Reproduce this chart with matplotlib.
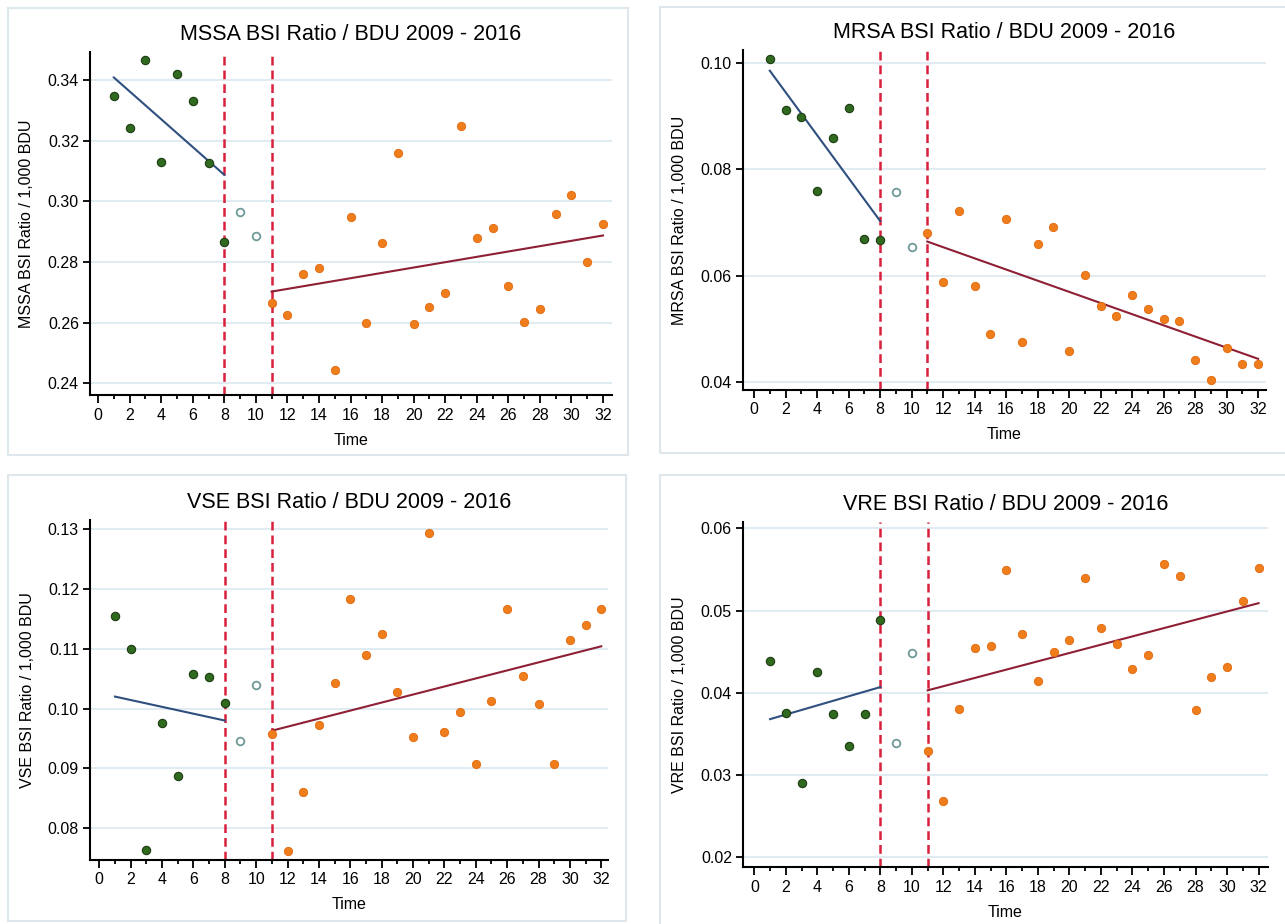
import matplotlib
matplotlib.use("Agg")
import matplotlib.pyplot as plt
from matplotlib.patches import Rectangle
from matplotlib.ticker import MultipleLocator, FixedLocator

plt.rcParams['font.family'] = ['Liberation Sans', 'DejaVu Sans']

time = list(range(1, 33))
x_ticks = list(range(0, 33, 2))
break_start = 8
break_end = 11

titles = ["MSSA BSI Ratio / BDU 2009 - 2016", "MRSA BSI Ratio / BDU 2009 - 2016",
          "VSE BSI Ratio / BDU 2009 - 2016", "VRE BSI Ratio / BDU 2009 - 2016"]
ylabels = ["MSSA BSI Ratio / 1,000 BDU", "MRSA BSI Ratio / 1,000 BDU",
           "VSE BSI Ratio / 1,000 BDU", "VRE BSI Ratio / 1,000 BDU"]

mssa = [0.3347, 0.3243, 0.3466, 0.3130, 0.3421, 0.3331, 0.3125, 0.2866,
        0.2965, 0.2884,
        0.2666, 0.2626, 0.2760, 0.2781, 0.2442, 0.2949, 0.2597, 0.2862, 0.3160, 0.2595,
        0.2652, 0.2697, 0.3249, 0.2878, 0.2913, 0.2719, 0.2601, 0.2644, 0.2959, 0.3020,
        0.2800, 0.2924]
mrsa = [0.1008, 0.0912, 0.0899, 0.0760, 0.0859, 0.0916, 0.0668, 0.0667,
        0.0758, 0.0653,
        0.0681, 0.0588, 0.0722, 0.0581, 0.0489, 0.0706, 0.0474, 0.0659, 0.0691, 0.0457,
        0.0601, 0.0543, 0.0523, 0.0563, 0.0536, 0.0518, 0.0514, 0.0440, 0.0403, 0.0463,
        0.0433, 0.0433]
vse = [0.1154, 0.1100, 0.0764, 0.0976, 0.0888, 0.1058, 0.1053, 0.1009,
       0.0945, 0.1040,
       0.0957, 0.0762, 0.0860, 0.0973, 0.1042, 0.1183, 0.1089, 0.1125, 0.1027, 0.0952,
       0.1294, 0.0960, 0.0994, 0.0908, 0.1012, 0.1166, 0.1055, 0.1007, 0.0908, 0.1114,
       0.1139, 0.1167]
vre = [0.0439, 0.0376, 0.0290, 0.0425, 0.0374, 0.0335, 0.0374, 0.0488,
       0.0339, 0.0448,
       0.0329, 0.0268, 0.0380, 0.0454, 0.0457, 0.0549, 0.0472, 0.0414, 0.0450, 0.0464,
       0.0539, 0.0479, 0.0459, 0.0429, 0.0446, 0.0557, 0.0542, 0.0379, 0.0419, 0.0431,
       0.0512, 0.0552]
series = [mssa, mrsa, vse, vre]

# fitted segment values (start, end)
pre_fit_t = [1, 8]
post_fit_t = [11, 32]
pre_fits = [[0.3408, 0.3087], [0.0986, 0.0703], [0.1020, 0.0980], [0.0368, 0.0407]]
post_fits = [[0.2702, 0.2887], [0.0664, 0.0443], [0.0963, 0.1104], [0.0403, 0.0509]]

y_ticks = [[0.24, 0.26, 0.28, 0.30, 0.32, 0.34],
           [0.04, 0.06, 0.08, 0.10],
           [0.08, 0.09, 0.10, 0.11, 0.12, 0.13],
           [0.02, 0.03, 0.04, 0.05, 0.06]]
y_fmt = ["{:.2f}", "{:.2f}", "{:.2f}", "{:.2f}"]
y_lims = [(0.2361, 0.3492), (0.03843, 0.1025), (0.0747, 0.1315), (0.01882, 0.06077)]
x_lims = [(-0.51, 32.57), (-0.70, 32.5), (-0.59, 32.43), (-0.72, 32.6)]

W, H = 1285, 924
# axes boxes in pixels: left, right, top, bottom
ax_px = [(90, 612, 52, 395), (743, 1266, 50, 390), (90, 608, 520, 860), (743, 1268, 522, 867)]
panel_px = [(8, 628, 8, 455), (660, 1290, 7, 453), (8, 626, 475, 921), (660, 1290, 475, 930)]

green = '#2f6a1f'
green_edge = '#1f3d14'
orange = '#f07d1c'
open_edge = '#6f9a98'
blue = '#2f4f7f'
maroon = '#8e1f35'
red = '#d8203c'
grid_c = '#e0ecf1'

fig = plt.figure(figsize=(W / 100, H / 100), dpi=100)
fig.patch.set_facecolor('white')

for i in range(4):
    pl, pr, pt, pb = panel_px[i]
    fig.patches.append(Rectangle((pl / W, 1 - pb / H), (pr - pl) / W, (pb - pt) / H,
                                 transform=fig.transFigure, fill=False,
                                 edgecolor='#dde7ec', lw=1.5, zorder=0))
    l, r, t, b = ax_px[i]
    ax = fig.add_axes([l / W, 1 - b / H, (r - l) / W, (b - t) / H])
    ys = series[i]
    pre_t = [tt for tt in time if tt <= break_start]
    mid_t = [tt for tt in time if break_start < tt < break_end]
    post_t = [tt for tt in time if tt >= break_end]
    ax.plot(pre_t, [ys[tt - 1] for tt in pre_t], 'o', ms=6, mfc=green, mec=green_edge,
            mew=0.8, zorder=4, clip_on=False)
    ax.plot(mid_t, [ys[tt - 1] for tt in mid_t], 'o', ms=5.5, mfc='white', mec=open_edge,
            mew=1.3, zorder=4)
    ax.plot(post_t, [ys[tt - 1] for tt in post_t], 'o', ms=6, mfc=orange, mec='#e06a10',
            mew=0.6, zorder=4, clip_on=False)
    ax.plot(pre_fit_t, pre_fits[i], '-', color=blue, lw=1.5, zorder=3)
    ax.plot(post_fit_t, post_fits[i], '-', color=maroon, lw=1.5, zorder=3)
    for xv in (break_start, break_end):
        ax.axvline(xv, color=red, lw=1.8, ls=(0, (3.5, 2)), zorder=2)
    ax.set_xlim(*x_lims[i])
    ax.set_ylim(*y_lims[i])
    ax.xaxis.set_major_locator(FixedLocator(x_ticks))
    ax.xaxis.set_minor_locator(MultipleLocator(1))
    ax.set_yticks(y_ticks[i])
    ax.set_yticklabels([y_fmt[i].format(v) for v in y_ticks[i]])
    ax.yaxis.grid(True, color=grid_c, lw=1.4, zorder=0)
    ax.set_axisbelow(True)
    for s in ('top', 'right'):
        ax.spines[s].set_visible(False)
    for s in ('left', 'bottom'):
        ax.spines[s].set_linewidth(1.5)
        ax.spines[s].set_color('black')
    ax.tick_params(axis='x', which='major', length=6, width=1.3, labelsize=11.5, pad=3)
    ax.tick_params(axis='x', which='minor', length=3, width=1.3)
    ax.tick_params(axis='y', which='major', length=5, width=1.3, labelsize=11.5, pad=3)
    ax.set_title(titles[i], fontsize=15.5, pad=9)
    ax.set_xlabel("Time", fontsize=11.5)
    ax.xaxis.set_label_coords(0.5, -0.11)
    ax.set_ylabel(ylabels[i], fontsize=11.5)
    ax.yaxis.set_label_coords(-0.107, 0.5)

fig.savefig("out.png", dpi=100)
